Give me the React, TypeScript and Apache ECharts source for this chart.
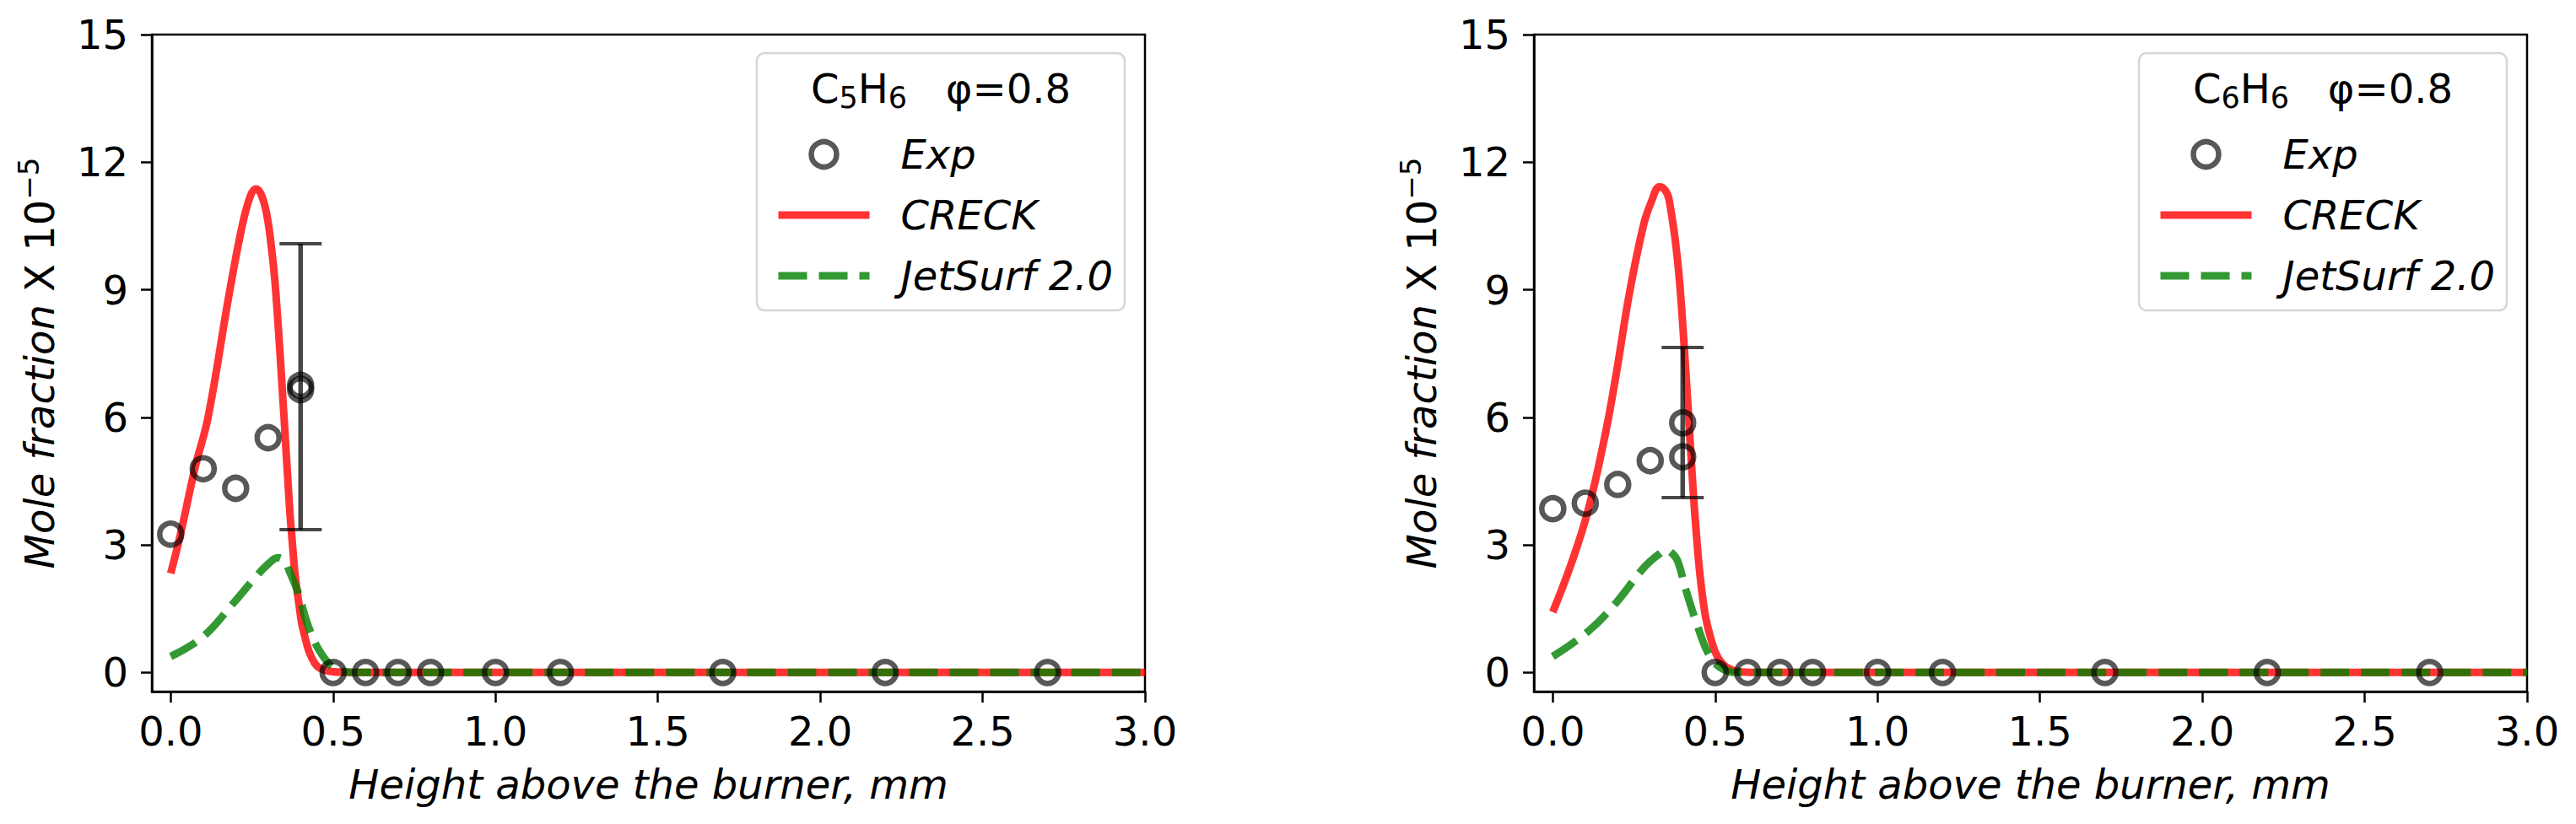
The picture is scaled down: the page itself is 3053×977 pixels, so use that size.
import React, { useEffect, useRef } from "react";
import * as echarts from "echarts";

// experimental points (height above burner, mm)
const expHeights = [0, 0.1, 0.2, 0.3, 0.4, 0.4, 0.5, 0.6, 0.7, 0.8, 1.0, 1.2, 1.7, 2.2, 2.7];
const expC5H6 = [3.25, 4.79, 4.33, 5.52, 6.65, 6.75, 0, 0, 0, 0, 0, 0, 0, 0, 0];
const expC6H6 = [3.85, 3.98, 4.42, 4.98, 5.07, 5.87, 0, 0, 0, 0, 0, 0, 0, 0, 0];

// error bars: [height, low, high]
const errC5H6 = [0.4, 3.36, 10.08];
const errC6H6 = [0.4, 4.11, 7.64];

// CRECK model
const creckC5H6X = [0, 0.03, 0.076, 0.115, 0.18, 0.22, 0.245, 0.262, 0.278, 0.295, 0.31, 0.323, 0.349, 0.366, 0.375, 0.383, 0.395, 0.409, 0.444, 0.487, 0.55, 1.0, 3.0];
const creckC5H6 = [2.33, 3.25, 4.85, 6.0, 8.9, 10.5, 11.2, 11.37, 11.25, 10.8, 10.0, 9.0, 6.0, 3.87, 3.0, 2.3, 1.6, 0.96, 0.21, 0.03, 0, 0, 0];
const creckC6H6X = [0, 0.056, 0.108, 0.16, 0.194, 0.237, 0.28, 0.305, 0.328, 0.345, 0.358, 0.384, 0.405, 0.422, 0.44, 0.461, 0.487, 0.522, 0.573, 0.62, 1.0, 3.0];
const creckC6H6 = [1.42, 2.54, 3.79, 5.54, 6.96, 8.96, 10.54, 11.1, 11.42, 11.35, 11.12, 9.71, 7.63, 5.54, 3.46, 1.79, 0.79, 0.21, 0.02, 0, 0, 0];

// JetSurf 2.0 model
const jetC5H6X = [0, 0.098, 0.193, 0.262, 0.3, 0.33, 0.35, 0.366, 0.392, 0.426, 0.47, 0.52, 0.58, 1.0, 3.0];
const jetC5H6 = [0.375, 0.83, 1.63, 2.25, 2.55, 2.7, 2.62, 2.37, 1.88, 1.04, 0.37, 0.04, 0, 0, 0];
const jetC6H6X = [0, 0.108, 0.194, 0.28, 0.33, 0.349, 0.365, 0.384, 0.409, 0.444, 0.478, 0.513, 0.565, 1.0, 3.0];
const jetC6H6 = [0.375, 0.96, 1.63, 2.46, 2.8, 2.88, 2.82, 2.63, 1.96, 1.13, 0.46, 0.13, 0, 0, 0];

const xTicks = [0, 0.5, 1.0, 1.5, 2.0, 2.5, 3.0];
const yTicks = [0, 3, 6, 9, 12, 15];

const FONT = "DejaVu Sans";
const RED = "rgba(255,0,0,0.8)";
const GREEN = "rgba(0,128,0,0.8)";
const MARK = "rgba(0,0,0,0.82)";

const zip = (xs: number[], ys: number[]) => xs.map((x, i) => [x, ys[i]]);

const panels = [
  {
    left: 180,
    species: ["C", "5", "H", "6"],
    exp: expC5H6,
    err: errC5H6,
    creck: zip(creckC5H6X, creckC5H6),
    jet: zip(jetC5H6X, jetC5H6),
  },
  {
    left: 1818,
    species: ["C", "6", "H", "6"],
    exp: expC6H6,
    err: errC6H6,
    creck: zip(creckC6H6X, creckC6H6),
    jet: zip(jetC6H6X, jetC6H6),
  },
];

const buildOption = () => {
  const grid: any[] = [];
  const xAxis: any[] = [];
  const yAxis: any[] = [];
  const series: any[] = [];
  const legend: any[] = [];
  const graphic: any[] = [];

  panels.forEach((p, i) => {
    const dx = p.left - 180;
    grid.push({
      left: p.left,
      top: 41,
      width: 1177,
      height: 779,
      show: true,
      borderColor: "#000",
      borderWidth: 2.5,
      backgroundColor: "transparent",
    });
    xAxis.push({
      type: "value",
      gridIndex: i,
      min: -0.058,
      max: 3.0,
      name: "Height above the burner, mm",
      nameLocation: "middle",
      nameGap: 86,
      nameTextStyle: { fontFamily: FONT, fontSize: 48, fontStyle: "italic", color: "#000" },
      axisLine: { show: true, onZero: false, lineStyle: { color: "#000", width: 2.5 } },
      axisTick: { show: true, customValues: xTicks, length: 13, lineStyle: { color: "#000", width: 2.5 } },
      axisLabel: {
        customValues: xTicks,
        margin: 23,
        fontFamily: FONT,
        fontSize: 48,
        color: "#000",
        formatter: (v: number) => v.toFixed(1),
      },
      splitLine: { show: false },
    });
    yAxis.push({
      type: "value",
      gridIndex: i,
      min: -0.45,
      max: 15,
      name: "{i|Mole fraction }{n|X 10}{s|−5}",
      nameLocation: "middle",
      nameRotate: 90,
      nameGap: 103,
      nameTextStyle: {
        color: "#000",
        rich: {
          i: { fontFamily: FONT, fontSize: 48, fontStyle: "italic", color: "#000", lineHeight: 60 },
          n: { fontFamily: FONT, fontSize: 48, color: "#000", lineHeight: 60 },
          s: { fontFamily: FONT, fontSize: 34, color: "#000", verticalAlign: "top", lineHeight: 60 },
        },
      },
      axisLine: { show: true, onZero: false, lineStyle: { color: "#000", width: 2.5 } },
      axisTick: { show: true, customValues: yTicks, length: 13, lineStyle: { color: "#000", width: 2.5 } },
      axisLabel: {
        customValues: yTicks,
        margin: 28,
        fontFamily: FONT,
        fontSize: 48,
        color: "#000",
      },
      splitLine: { show: false },
    });

    series.push({
      name: "CRECK",
      type: "line",
      xAxisIndex: i,
      yAxisIndex: i,
      data: p.creck,
      symbol: "none",
      showSymbol: false,
      smooth: 0.4,
      lineStyle: { color: RED, width: 9 },
      itemStyle: { color: RED },
      z: 2,
    });
    series.push({
      name: "JetSurf 2.0",
      type: "line",
      xAxisIndex: i,
      yAxisIndex: i,
      data: p.jet,
      symbol: "none",
      showSymbol: false,
      smooth: 0.4,
      lineStyle: { color: GREEN, width: 9, type: [34, 14] },
      itemStyle: { color: GREEN },
      z: 3,
    });
    series.push({
      type: "custom",
      xAxisIndex: i,
      yAxisIndex: i,
      data: [p.err],
      encode: { x: 0, y: [1, 2] },
      z: 4,
      renderItem: (_params: any, api: any) => {
        const x = api.value(0);
        const lo = api.coord([x, api.value(1)]);
        const hi = api.coord([x, api.value(2)]);
        const w = 25;
        const style = { stroke: "rgba(0,0,0,0.72)", lineWidth: 5.5 };
        return {
          type: "group",
          children: [
            { type: "line", shape: { x1: lo[0], y1: lo[1], x2: hi[0], y2: hi[1] }, style },
            { type: "line", shape: { x1: hi[0] - w, y1: hi[1], x2: hi[0] + w, y2: hi[1] }, style: { ...style, lineWidth: 4 } },
            { type: "line", shape: { x1: lo[0] - w, y1: lo[1], x2: lo[0] + w, y2: lo[1] }, style: { ...style, lineWidth: 4 } },
          ],
        };
      },
    });
    series.push({
      name: "Exp",
      type: "scatter",
      xAxisIndex: i,
      yAxisIndex: i,
      data: zip(expHeights, p.exp),
      symbol: "circle",
      symbolSize: 26,
      itemStyle: { color: "rgba(255,255,255,0)", borderColor: MARK, borderWidth: 6.5 },
      z: 5,
    });

    legend.push({
      data: [
        { name: "Exp" },
        { name: "CRECK", itemStyle: { opacity: 0 } },
        { name: "JetSurf 2.0", itemStyle: { opacity: 0 } },
      ],
      orient: "vertical",
      left: 913 + dx,
      top: 153,
      itemWidth: 108,
      itemHeight: 30,
      itemGap: 22,
      selectedMode: false,
      z: 6,
      itemStyle: { borderWidth: 6.5 },
      lineStyle: { width: 9 },
      textStyle: {
        fontFamily: FONT,
        fontSize: 48,
        fontStyle: "italic",
        color: "#000",
        lineHeight: 50,
        padding: [0, 0, 0, 32],
      },
    });

    graphic.push({
      type: "rect",
      z: 5,
      shape: { x: 897 + dx, y: 63, width: 436, height: 305, r: 9 },
      style: { fill: "rgba(255,255,255,0.8)", stroke: "#d6d6d6", lineWidth: 2.5 },
    });
    const [a, n1, b, n2] = p.species;
    graphic.push({
      type: "text",
      z: 6,
      x: 1115 + dx,
      y: 105,
      style: {
        text: `{n|${a}}{s|${n1}}{n|${b}}{s|${n2}}{n|   φ=0.8}`,
        align: "center",
        verticalAlign: "middle",
        rich: {
          n: { fontFamily: FONT, fontSize: 48, fill: "#000", lineHeight: 56 },
          s: { fontFamily: FONT, fontSize: 35, fill: "#000", lineHeight: 56, verticalAlign: "bottom" },
        },
      },
    });
  });

  return { animation: false, grid, xAxis, yAxis, series, legend, graphic };
};

const App = () => {
  const chartRef = useRef<HTMLDivElement>(null);

  useEffect(() => {
    const chart = echarts.init(chartRef.current, null, { renderer: "svg" });
    chart.setOption(buildOption());
    return () => {
      chart.dispose();
    };
  }, []);

  return (
    <div
      ref={chartRef}
      style={{ position: "fixed", left: 0, top: 0, width: 3053, height: 977, background: "#fff" }}
    />
  );
};

export default App;
